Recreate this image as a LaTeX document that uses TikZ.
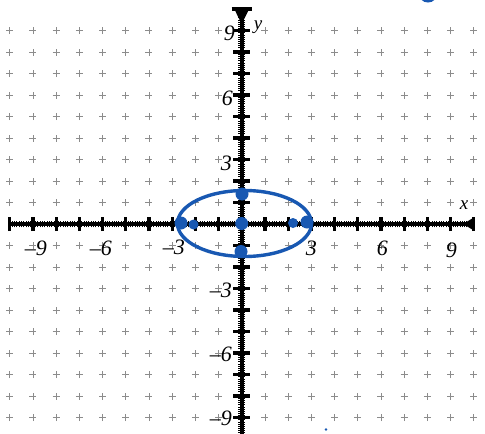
\documentclass[tikz,border=0pt]{standalone}
\usepackage{fontspec}
\setmainfont{Liberation Serif}
\definecolor{inkblue}{RGB}{24,88,178}
\begin{document}
\begin{tikzpicture}[x=1pt,y=-1pt,
  gridmark/.style={draw=black!45,line width=0.7pt},
  axisline/.style={line width=3.8pt,black},
  majortick/.style={line width=3.2pt,black},
  minortooth/.style={line width=0.5pt,black},
  axislabel/.style={font=\fontsize{22}{22}\selectfont\itshape,inner sep=0pt,anchor=east},
  varlabel/.style={font=\fontsize{19}{19}\selectfont\itshape,inner sep=0pt},
  curve/.style={draw=inkblue,line width=3.4pt},
  bigdot/.style={fill=inkblue}]
\useasboundingbox (0,0) rectangle (485,434);
\fill[white] (0,0) rectangle (485,434);
\begin{scope}[shift={(241.7,224)},x=23.2pt,y=21.5pt]
  % grid marks
  \foreach \i in {-10,...,10}{
    \foreach \j in {-9,...,9}{
      \ifnum\i=0 \else\ifnum\j=0 \else
        \draw[gridmark] (\i,\j) +(-3.5pt,0) -- +(3.5pt,0) (\i,\j) +(0,-3.5pt) -- +(0,3.5pt);
      \fi\fi
    }}
  % axes
  \coordinate (xl) at (-10,0);
  \coordinate (xr) at (10,0);
  \coordinate (yb) at (0,-10.6);
  \coordinate (yt) at (0,10);
  \draw[axisline] (xl) -- (xr);
  \draw[axisline] (yb) -- (yt);
  \foreach \t in {-99,...,99}{
    \draw[minortooth] (\t/10,0) +(0,-3.4pt) -- +(0,3.4pt);
    \draw[minortooth] (0,\t/10) +(-3.4pt,0) -- +(3.4pt,0);
  }
  \foreach \i in {-10,...,10}{
    \ifnum\i=0 \else
      \draw[majortick] (\i,0) +(0,-7pt) -- +(0,7pt);
      \draw[majortick] (0,\i) +(-8.5pt,0) -- +(8.5pt,0);
    \fi}
  \draw[majortick] (0,10) +(-10pt,0) -- +(10pt,0);
  \fill (9.55,0) -- (10,0.3) -- (10,-0.3) -- cycle;
  \fill (0,9.3) -- (-0.32,10) -- (0.32,10) -- cycle;
\end{scope}
% axis labels
\node[axislabel] (xm9) at (47,248) {–9};
\node[axislabel] (xm6) at (112,248) {–6};
\node[axislabel] (xm3) at (185,247) {–3};
\node[axislabel] (xp3) at (317,248) {3};
\node[axislabel] (xp6) at (388,248) {6};
\node[axislabel] (xp9) at (457,250) {9};
\node[axislabel] (yp9) at (235,33) {9};
\node[axislabel] (yp6) at (233,98) {6};
\node[axislabel] (yp3) at (232,163) {3};
\node[axislabel] (ym3) at (232,290) {–3};
\node[axislabel] (ym6) at (232,354) {–6};
\node[axislabel] (ym9) at (232,418) {–9};
\node[varlabel] (xlab) at (464,205) {x};
\node[varlabel] (ylab) at (258,27) {y};
% ellipse and points
\draw[curve] (244.5,223.5) ellipse [x radius=67pt,y radius=33pt];
\fill[bigdot] (181,223) circle[radius=6.5pt];
\fill[bigdot] (193.5,224.5) circle[radius=5pt];
\fill[bigdot] (293,223) circle[radius=5pt];
\fill[bigdot] (307,222) circle[radius=6.5pt];
\fill[bigdot] (242,194) circle[radius=6.5pt];
\fill[bigdot] (241.7,223.5) circle[radius=6.5pt];
\fill[bigdot] (241,251.5) circle[radius=6.5pt];
% stray ink
\draw[inkblue,line width=3pt] (428,-7) circle[radius=8pt];
\fill[inkblue] (326,429.5) circle[radius=1.3pt];
\end{tikzpicture}
\end{document}
